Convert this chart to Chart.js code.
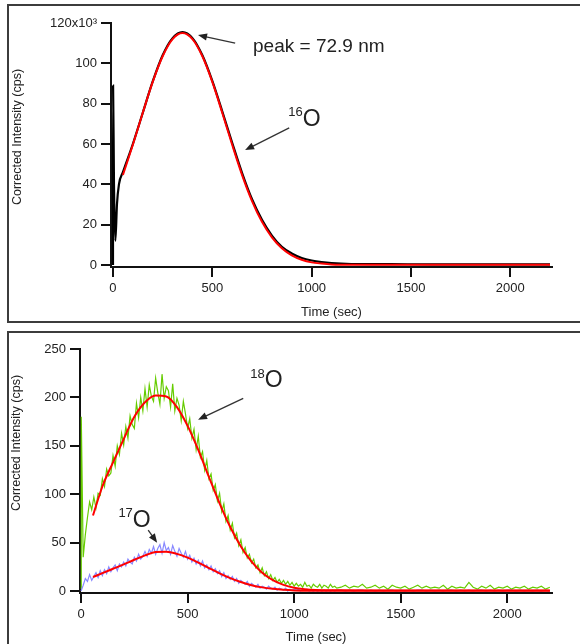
<!DOCTYPE html>
<html><head><meta charset="utf-8">
<script src="https://cdn.jsdelivr.net/npm/chart.js@4/dist/chart.umd.min.js"></script>
<style>
html,body{margin:0;padding:0;background:#fff;width:580px;height:644px;overflow:hidden;position:relative;font-family:"Liberation Sans",Arial,sans-serif}
.panel{position:absolute;left:7px;width:620px;border:2px solid #3c3c3c;box-sizing:border-box}
#p1{top:4px;height:319px}
#p2{top:331px;height:340px}
canvas{position:absolute;left:0}
#c1{top:0}
#c2{top:325px}
</style></head><body>
<div class="panel" id="p1"></div><div class="panel" id="p2"></div>
<canvas id="c1" width="580" height="325" style="width:580px;height:325px"></canvas>
<canvas id="c2" width="580" height="319" style="width:580px;height:319px"></canvas>
<script>
// ---------- Top panel (16O), intensity in units of 10^3 cps ----------
const xTicks = [0, 500, 1000, 1500, 2000];
const yTicksTop = [0, 20, 40, 60, 80, 100, 120];
const yTicksBottom = [0, 50, 100, 150, 200, 250];

const o16T = [0, 0.5, 5, 12, 20, 30, 50, 100, 150, 200, 250, 300, 350, 400, 450, 500, 550, 600, 650, 700, 750, 800, 850, 900, 950, 1000, 1050, 1100, 1200, 1400, 1600, 1800, 2000, 2200];
const o16 = [0, 89, 40, 12, 30, 40, 46, 60, 75.5, 91, 104, 112.5, 115.5, 112.5, 104, 91.3, 76.2, 60.6, 45.6, 32.6, 22.4, 14.6, 9, 5.7, 3.5, 2.2, 1.4, 0.9, 0.5, 0.4, 0.3, 0.3, 0.3, 0.3];

const fit16T = [50, 100, 150, 200, 250, 300, 350, 400, 450, 500, 550, 600, 650, 700, 750, 800, 850, 900, 950, 1000, 1050, 1100, 1200, 1400, 1600, 1800, 2000, 2200];
const fit16 = [44.6, 59.6, 75.5, 90.8, 103.5, 112, 115, 112, 103.5, 90.8, 75.5, 59.6, 44.6, 31.7, 21.4, 13.7, 8.3, 4.8, 2.6, 1.3, 0.7, 0.3, 0.1, 0.1, 0.1, 0.1, 0.1, 0.1];

// ---------- Bottom panel (18O, 17O), cps ----------
const o18HeadT = [0, 1];
const o18Head = [2, 180];
// every 10 s from 10 to 1200
const o18Main = [35, 58, 76, 92, 84, 97, 86, 101, 99, 116,
  108, 126, 119, 122, 140, 129, 150, 141, 163, 151,
  170, 158, 181, 172, 168, 194, 179, 200, 186, 209,
  190, 213, 201, 196, 220, 205, 193, 224, 199, 211,
  207, 190, 214, 186, 199, 192, 176, 196, 183, 168,
  178, 158, 167, 146, 160, 138, 144, 125, 135, 116,
  121, 104, 110, 93, 101, 82, 90, 72, 78, 63,
  70, 55, 60, 47, 53, 40, 45, 34, 38, 29,
  33, 24, 27, 19, 24, 16, 20, 13, 17, 11,
  14, 9, 12, 8, 11, 7, 10, 6, 9, 5,
  8, 5, 7, 4, 9, 5, 6, 3, 7, 5,
  4, 7, 3, 6, 5, 3, 7, 4, 5, 3];
// every 20 s from 1220 to 2200
const o18Tail = [4, 6, 3, 5, 4, 7, 3, 4, 6, 3, 5, 2, 6, 4, 3, 5, 2, 4, 6, 3, 5, 3, 4, 3, 6, 2, 5, 3, 4, 3, 9, 4, 2, 5, 3, 6, 2, 4, 3, 5, 2, 4, 3, 5, 2, 4, 3, 5, 2, 4];

const o17HeadT = [0];
const o17Head = [0];
const o17Main = [6, 13, 10, 17, 11, 15, 19, 14, 21, 16,
  22, 18, 25, 20, 24, 27, 21, 28, 25, 30,
  26, 33, 30, 28, 35, 31, 38, 33, 36, 41,
  36, 43, 39, 46, 38, 44, 48, 39, 50, 42,
  45, 38, 47, 41, 36, 44, 39, 35, 41, 33,
  37, 30, 34, 28, 32, 26, 31, 24, 27, 22,
  26, 20, 23, 18, 21, 15, 19, 13, 16, 12,
  15, 10, 13, 8, 11, 9, 7, 10, 5, 8,
  6, 4, 7, 3, 5, 4, 2, 5, 3, 2,
  4, 1, 3, 2, 1, 3, 0, 2, 1, 2,
  1, 2, 0, 2, 1, 2, 0, 1, 0, 1,
  0, 1, 0, 1, 0, 1, 0, 1, 0, 1];
const o17Tail = [1, 0, 1, 0, 1, 1, 0, 1, 0, 1, 0, 1, 1, 0, 1, 0, 1, 0, 1, 1, 0, 1, 0, 1, 0, 1, 1, 0, 1, 0, 1, 0, 1, 1, 0, 1, 0, 1, 0, 1, 1, 0, 1, 0, 1, 0, 1, 0, 1, 0];

const fit18T = [56, 100, 150, 200, 250, 300, 350, 400, 450, 500, 550, 600, 650, 700, 750, 800, 850, 900, 950, 1000, 1050, 1100, 1200, 1400, 1600, 1800, 2000, 2200];
const fit18 = [78, 108, 133, 157, 180, 195, 202, 201, 190, 170.6, 145.8, 117.8, 90.6, 66.1, 46, 30.4, 19, 11.3, 6.4, 3.5, 2, 1.2, 0.8, 0.6, 0.5, 0.5, 0.5, 0.5];
const fit17T = [56, 100, 150, 200, 250, 300, 350, 400, 450, 500, 550, 600, 650, 700, 750, 800, 850, 900, 950, 1000, 1100, 1200, 1400, 1600, 1800, 2000, 2200];
const fit17 = [14.5, 18.5, 23, 27.5, 32.3, 36.8, 40.3, 40.6, 38.4, 34.5, 29.4, 23.8, 18.3, 13.4, 9.3, 6.1, 3.8, 2.3, 1.3, 0.7, 0.3, 0.2, 0.2, 0.2, 0.2, 0.2, 0.2];

// ---------- helpers ----------
const gridT = (start, step, n) => Array.from({length: n}, (_, i) => start + step * i);
const pts = (ts, vs) => ts.map((t, i) => ({x: t, y: vs[i]}));
const o18T = [...o18HeadT, ...gridT(10, 10, o18Main.length), ...gridT(1220, 20, o18Tail.length)];
const o18V = [...o18Head, ...o18Main, ...o18Tail];
const o17T = [...o17HeadT, ...gridT(10, 10, o17Main.length), ...gridT(1220, 20, o17Tail.length)];
const o17V = [...o17Head, ...o17Main, ...o17Tail];

const FONT = '"Liberation Sans", Arial, sans-serif';
const INK = '#222';

function drawArrow(ctx, x1, y1, x2, y2) {
  const a = Math.atan2(y2 - y1, x2 - x1), L = 9, W = 3.6;
  ctx.beginPath(); ctx.moveTo(x1, y1);
  ctx.lineTo(x2 - Math.cos(a) * L * 0.8, y2 - Math.sin(a) * L * 0.8); ctx.stroke();
  ctx.beginPath(); ctx.moveTo(x2, y2);
  ctx.lineTo(x2 - Math.cos(a) * L - Math.sin(a) * W, y2 - Math.sin(a) * L + Math.cos(a) * W);
  ctx.lineTo(x2 - Math.cos(a) * L + Math.sin(a) * W, y2 - Math.sin(a) * L - Math.cos(a) * W);
  ctx.closePath(); ctx.fill();
}

const panelText = {
  id: 'panelText',
  afterDraw(chart, args, o) {
    const ctx = chart.ctx, xs = chart.scales.x, ys = chart.scales.y, ca = chart.chartArea;
    const X = t => xs.getPixelForValue(t), Y = v => ys.getPixelForValue(v);
    ctx.save();
    ctx.fillStyle = INK; ctx.strokeStyle = '#333';
    ctx.font = '13px ' + FONT; ctx.textAlign = 'center'; ctx.textBaseline = 'middle';
    ctx.fillText(o.xTitle, (ca.left + ca.right) / 2, o.xTitleY);
    ctx.save(); ctx.translate(o.yTitleX, o.yTitleY); ctx.rotate(-Math.PI / 2);
    ctx.font = '12.5px ' + FONT; ctx.fillText(o.yTitle, 0, 0); ctx.restore();
    (o.texts || []).forEach(tx => {
      ctx.font = tx.size + 'px ' + FONT; ctx.textAlign = 'left'; ctx.textBaseline = 'middle';
      ctx.fillText(tx.text, X(tx.t), Y(tx.v));
    });
    (o.isotopes || []).forEach(s => {
      const x = X(s.t), y = Y(s.v);
      ctx.textBaseline = 'middle';
      ctx.font = '23px ' + FONT; ctx.textAlign = 'left'; ctx.fillText('O', x, y);
      ctx.font = '13px ' + FONT; ctx.textAlign = 'right'; ctx.fillText(s.mass, x, y - 7);
    });
    ctx.lineWidth = 1.3; ctx.fillStyle = '#222';
    (o.arrows || []).forEach(a => drawArrow(ctx, X(a.from[0]), Y(a.from[1]), X(a.to[0]), Y(a.to[1])));
    ctx.restore();
  }
};

function axis(min, max, ticks, fmt, w, h) {
  return {
    type: 'linear', min, max,
    afterBuildTicks: s => { s.ticks = ticks.map(v => ({value: v})); },
    afterFit: s => { if (w !== null) s.width = w; if (h !== null) s.height = h; },
    grid: {display: true, drawOnChartArea: false, drawTicks: true, tickLength: 10, tickColor: '#111', tickWidth: 2, color: '#111', lineWidth: 2},
    border: {display: true, color: '#111', width: 2},
    ticks: {font: {family: FONT, size: 13}, color: INK, padding: 4, maxRotation: 0, autoSkip: false, callback: fmt}
  };
}

function lineDs(data, color, width, order) {
  return {data, borderColor: color, borderWidth: width, pointRadius: 0, fill: false, order,
    cubicInterpolationMode: 'monotone', tension: 0.4};
}

new Chart(document.getElementById('c1'), {
  type: 'line',
  data: {datasets: [
    lineDs(pts(fit16T, fit16), '#ff0000', 2, 0),
    lineDs(pts(o16T, o16), '#000000', 2.2, 1)
  ]},
  options: {
    responsive: false, animation: false, events: [],
    layout: {padding: {left: 0, right: 28, top: 23, bottom: 0}},
    plugins: {legend: {display: false}, tooltip: {enabled: false},
      panelText: {
        xTitle: 'Time (sec)', xTitleY: 312, yTitle: 'Corrected Intensity (cps)', yTitleX: 18, yTitleY: 137,
        texts: [{text: 'peak = 72.9 nm', t: 705, v: 108, size: 19}],
        isotopes: [{mass: '16', t: 955, v: 72}],
        arrows: [{from: [615, 110], to: [428, 114]}, {from: [887, 68], to: [665, 57]}]
      }},
    scales: {
      x: axis(-10, 2210, xTicks, v => String(v), null, 58),
      y: axis(-1, 120, yTicksTop, v => v === 120 ? '120x10\u00B3' : String(v), 111, null)
    }
  },
  plugins: [panelText]
});

new Chart(document.getElementById('c2'), {
  type: 'line',
  data: {datasets: [
    lineDs(pts(fit18T, fit18), '#ff0000', 2, 0),
    lineDs(pts(fit17T, fit17), '#ff0000', 2, 0),
    Object.assign(lineDs(pts(o18T, o18V), '#66cc00', 1.2, 2), {cubicInterpolationMode: 'default', tension: 0}),
    Object.assign(lineDs(pts(o17T, o17V), '#8888ff', 1.2, 1), {cubicInterpolationMode: 'default', tension: 0})
  ]},
  options: {
    responsive: false, animation: false, events: [],
    layout: {padding: {left: 0, right: 28, top: 24, bottom: 0}},
    plugins: {legend: {display: false}, tooltip: {enabled: false},
      panelText: {
        xTitle: 'Time (sec)', xTitleY: 312, yTitle: 'Corrected Intensity (cps)', yTitleX: 17, yTitleY: 118,
        isotopes: [{mass: '18', t: 862, v: 217}, {mass: '17', t: 243, v: 73}],
        arrows: [{from: [761, 199], to: [549, 177]}, {from: [315, 63], to: [357, 50]}]
      }},
    scales: {
      x: axis(-5, 2210, xTicks, v => String(v), null, 51),
      y: axis(-2, 250, yTicksBottom, v => String(v), 80, null)
    }
  },
  plugins: [panelText]
});
</script>
</body></html>
